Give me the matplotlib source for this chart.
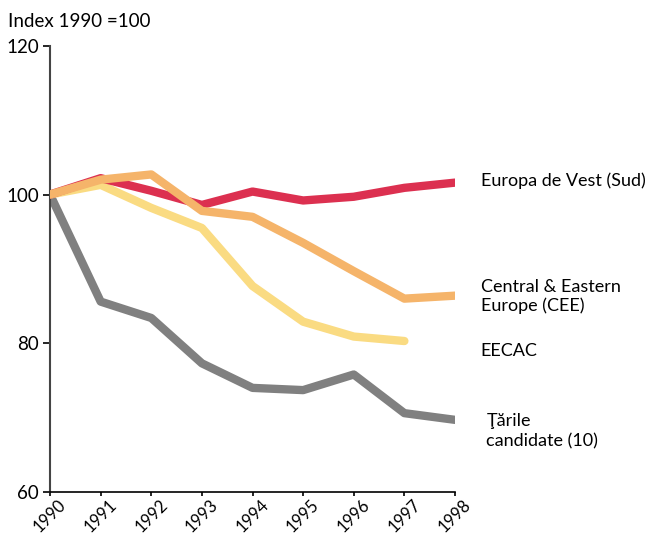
import matplotlib.pyplot as plt

plt.rcParams['font.family'] = ['Lato', 'DejaVu Sans']

years = [1990, 1991, 1992, 1993, 1994, 1995, 1996, 1997, 1998]

# Index 1990 = 100
west_south = [100, 102.2, 100.5, 98.6, 100.4, 99.2, 99.7, 100.9, 101.6]
cee = [100, 102.0, 102.7, 97.8, 97.0, 93.5, 89.7, 86.0, 86.4]
eecac = [100, 101.3, 98.2, 95.5, 87.7, 82.9, 80.9, 80.3]
candidates = [100, 85.6, 83.4, 77.3, 74.0, 73.7, 75.8, 70.6, 69.7]

yticks = [60, 80, 100, 120]

fig = plt.figure(figsize=(6.5, 5.35), dpi=100)
ax = fig.add_axes([0.077, 0.0804, 0.623, 0.834])

lw = 6
ax.plot(years, candidates, color="#808080", lw=lw, solid_capstyle="round", zorder=2)
ax.plot(years[:len(eecac)], eecac, color="#FADB82", lw=lw, solid_capstyle="round", zorder=3)
ax.plot(years, west_south, color="#DC3050", lw=lw, solid_capstyle="round", zorder=4)
ax.plot(years, cee, color="#F5B46A", lw=lw, solid_capstyle="round", zorder=5)

ax.set_xlim(1990, 1998)
ax.set_ylim(60, 120)
ax.set_xticks(years)
ax.set_xticklabels([str(y) for y in years], rotation=45, ha="center", va="top",
                   fontsize=12)
ax.set_yticks(yticks)
ax.set_yticklabels([str(v) for v in yticks], fontsize=13.5)
ax.tick_params(axis="y", length=5, width=1.2, pad=3)
ax.tick_params(axis="x", length=3, width=1.2, pad=0.5)

for s in ["top", "right"]:
    ax.spines[s].set_visible(False)
ax.spines["left"].set_color("#444444")
ax.spines["left"].set_linewidth(1.5)
ax.spines["bottom"].set_linewidth(1.2)

fig.text(0.012, 0.975, "Index 1990 =100", fontsize=13.5, ha="left", va="top")

lbl = dict(fontsize=13, ha="left", va="center", clip_on=False)
ax.text(1998.51, 101.9, "Europa de Vest (Sud)", **lbl)
ax.text(1998.51, 86.3, "Central & Eastern\nEurope (CEE)", linespacing=1.15, **lbl)
ax.text(1998.51, 79.0, "EECAC", **lbl)
ax.text(1998.62, 68.2, "Ţările\ncandidate (10)", linespacing=1.3, **lbl)

fig.savefig("out.png", dpi=100)
